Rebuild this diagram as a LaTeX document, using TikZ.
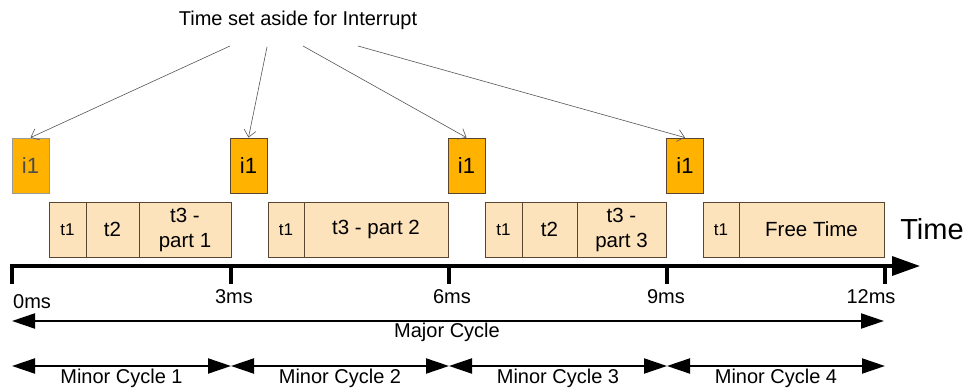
\documentclass[tikz,border=0pt]{standalone}
\usepackage{fontspec}
\setmainfont{Liberation Sans}
\usetikzlibrary{arrows.meta}
\definecolor{intfill}{HTML}{FFB300}
\definecolor{taskfill}{HTML}{FDE3BB}
\definecolor{boxdraw}{HTML}{5A4630}
\definecolor{ptrgray}{HTML}{555555}
\begin{document}
\begin{tikzpicture}[x=1pt,y=-1pt,
  intbox/.style={draw=boxdraw, fill=intfill, line width=0.8pt, minimum width=37pt, minimum height=55pt, inner sep=0pt, font=\fontsize{22}{24}\selectfont},
  taskbox/.style={draw=boxdraw, fill=taskfill, line width=0.8pt, minimum height=55pt, inner sep=0pt, align=center, font=\fontsize{20.5}{25}\selectfont},
  smalltask/.style={taskbox, font=\fontsize{17}{19}\selectfont},
  lbl/.style={inner sep=0pt, font=\fontsize{20}{24}\selectfont},
  pointer/.style={draw=ptrgray, line width=0.6pt, -{Straight Barb[length=7pt,width=12pt]}},
  axisline/.style={line width=3.5pt},
  cyclearrow/.style={line width=2pt, {Triangle[length=23pt,width=15pt]}-{Triangle[length=23pt,width=15pt]}}
]
\useasboundingbox (0,0) rectangle (970,390);

% title
\node[lbl] (title) at (298,20) {Time set aside for Interrupt};
\coordinate (s1) at (230,46);
\coordinate (s2) at (267,47);
\coordinate (s3) at (303,46);
\coordinate (s4) at (358,46);

% interrupt boxes
\node[intbox, draw=black!40, text=black!70] (ia) at (30.5,165.5) {i1};
\node[intbox] (ib) at (248.5,165.5) {i1};
\node[intbox] (ic) at (466.5,165.5) {i1};
\node[intbox] (id) at (685,165.5) {i1};

\draw[pointer] (s1) -- (ia.north);
\draw[pointer] (s2) -- (ib.north);
\draw[pointer] (s3) -- (ic.north);
\draw[pointer] (s4) -- (id.north);

% task boxes, minor cycle 1
\node[smalltask, minimum width=37pt] (a1) at (67.5,229.5) {t1};
\node[taskbox, minimum width=53pt] (a2) at (112.5,229.5) {t2};
\node[taskbox, minimum width=92pt] (a3) at (185,229.5) {t3 -\\part 1};
% minor cycle 2
\node[smalltask, minimum width=36pt] (b1) at (286,229.5) {t1};
\node[taskbox, minimum width=144pt] (b2) at (376,229.5) {t3 - part 2};
% minor cycle 3
\node[smalltask, minimum width=37pt] (c1) at (503.5,229.5) {t1};
\node[taskbox, minimum width=55pt] (c2) at (549.5,229.5) {t2};
\node[taskbox, minimum width=89pt] (c3) at (621.5,229.5) {t3 -\\part 3};
% minor cycle 4
\node[smalltask, minimum width=36pt] (d1) at (721,229.5) {t1};
\node[taskbox, minimum width=145pt] (d2) at (811.5,229.5) {Free Time};

% time axis
\coordinate (t0) at (12,266);
\coordinate (t3) at (231,266);
\coordinate (t6) at (449,266);
\coordinate (t9) at (667,266);
\coordinate (t12) at (885,266);
\coordinate (tend) at (920,266);
\coordinate (t0low) at (12,284);
\draw[axisline, -{Triangle[length=28pt,width=19pt]}] (t0low) -- (t0) -- (tend);
\foreach \c in {t3,t6,t9,t12} \draw[axisline] (\c) -- ++(0,18);
\node[font=\fontsize{29}{32}\selectfont, inner sep=0pt] (timelbl) at (932,229) {Time};

% tick labels
\node[lbl, anchor=west] (l0) at (13,302) {0ms};
\node[lbl] (l3) at (234,297) {3ms};
\node[lbl] (l6) at (452,297) {6ms};
\node[lbl] (l9) at (666,297) {9ms};
\node[lbl] (l12) at (871,297) {12ms};

% major cycle
\coordinate (ma) at (12,321);
\coordinate (mb) at (884,321);
\draw[cyclearrow] (ma) -- (mb);
\node[lbl] (major) at (447,332) {Major Cycle};

% minor cycles
\coordinate (m0) at (12,366);
\coordinate (m1) at (231,366);
\coordinate (m2) at (449,366);
\coordinate (m3) at (667,366);
\coordinate (m4) at (885,366);
\draw[cyclearrow] (m0) -- (m1);
\draw[cyclearrow] (m1) -- (m2);
\draw[cyclearrow] (m2) -- (m3);
\draw[cyclearrow] (m3) -- (m4);
\node[lbl] (mc1) at (121.5,378) {Minor Cycle 1};
\node[lbl] (mc2) at (340,378) {Minor Cycle 2};
\node[lbl] (mc3) at (558,378) {Minor Cycle 3};
\node[lbl] (mc4) at (776,378) {Minor Cycle 4};
\end{tikzpicture}
\end{document}
